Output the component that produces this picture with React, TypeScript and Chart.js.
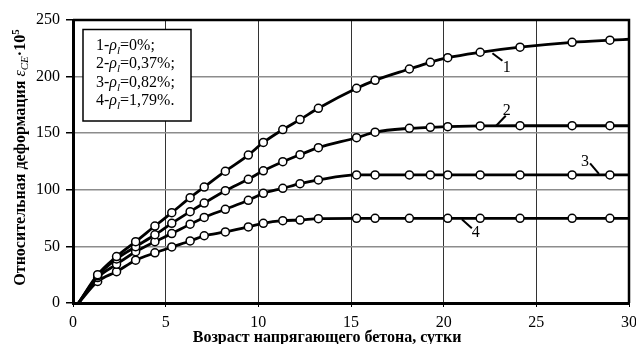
import React, { useEffect, useRef } from 'react';
import { Chart, registerables } from 'chart.js';

Chart.register(...registerables);

// ---- data ----
const days = [0.3, 1.33, 2.35, 3.38, 4.42, 5.33, 6.32, 7.08, 8.22, 9.46, 10.27, 11.32, 12.25, 13.24, 15.3, 16.3, 18.15, 19.28, 20.22, 21.97, 24.12, 26.93, 28.97, 30];
const series1 = [0, 25, 41, 54.2, 68, 79.8, 93, 102.4, 116.4, 130.7, 141.8, 153.2, 162, 172, 189.7, 196.7, 206.7, 212.6, 216.7, 221.5, 226, 230.3, 232.2, 233];
const series2 = [0, 24, 38.9, 49.7, 60.3, 70.4, 80.7, 88.3, 99.2, 109.3, 116.8, 124.8, 131, 137.2, 146, 150.9, 154.3, 155.2, 155.8, 156.4, 156.6, 156.6, 156.6, 156.6];
const series3 = [0, 22.5, 34.2, 45.3, 54.2, 61.3, 69.6, 75.6, 82.8, 90.7, 96.9, 101.3, 105.4, 108.7, 113.1, 113.1, 113.1, 113.1, 113.1, 113.1, 113.1, 113.1, 113.1, 113.1];
const series4 = [0, 19, 27.7, 37.8, 44.3, 49.5, 54.8, 59.4, 62.8, 67.2, 70.4, 72.7, 73.3, 74.5, 74.8, 74.8, 74.8, null, 74.8, 74.8, 74.8, 74.8, 74.8, 74.8];
const seriesNames = ['1', '2', '3', '4'];
const legendPrefix = ['1-', '2-', '3-', '4-'];
const legendValue = ['=0%;', '=0,37%;', '=0,82%;', '=1,79%.'];
const xMin = 0, xMax = 30, xStep = 5;
const yMin = 0, yMax = 250, yStep = 50;
const xTitle = 'Возраст напрягающего бетона, сутки';
const yTitleMain = 'Относительная деформация ';

// callout annotations (data units): text centre, leader line from curve to label
const calloutText = [[23.41, 208.2], [23.4, 170], [27.62, 124.8], [21.73, 62.1]];
const calloutLine = [[22.63, 220.6, 23.17, 214], [22.82, 156.4, 23.35, 165.4], [28.38, 114, 27.9, 123.4], [20.98, 73.9, 21.52, 66]];

const SERIF = "'Liberation Serif', 'Times New Roman', serif";

type Run = { t: string; f: string; dy?: number };
function drawRuns(ctx: CanvasRenderingContext2D, runs: Run[], x: number, y: number, center: boolean) {
  let w = 0;
  for (const r of runs) { ctx.font = r.f; w += ctx.measureText(r.t).width; }
  let cx = center ? x - w / 2 : x;
  ctx.textAlign = 'left';
  for (const r of runs) {
    ctx.font = r.f;
    ctx.fillText(r.t, cx, y + (r.dy || 0));
    cx += ctx.measureText(r.t).width;
  }
}

const annotPlugin = {
  id: 'annot',
  afterDatasetsDraw(chart: any) {
    const { ctx, chartArea: ca, scales } = chart;
    const xs = scales.x, ys = scales.y;
    ctx.save();
    // frame top/right
    ctx.strokeStyle = '#000';
    ctx.lineWidth = 2.5;
    ctx.beginPath();
    ctx.moveTo(ca.left, ca.top);
    ctx.lineTo(ca.right, ca.top);
    ctx.lineTo(ca.right, ca.bottom);
    ctx.stroke();

    // callouts
    ctx.fillStyle = '#000';
    ctx.lineWidth = 2;
    ctx.textBaseline = 'middle';
    seriesNames.forEach((name, k) => {
      const l = calloutLine[k];
      ctx.beginPath();
      ctx.moveTo(xs.getPixelForValue(l[0]), ys.getPixelForValue(l[1]));
      ctx.lineTo(xs.getPixelForValue(l[2]), ys.getPixelForValue(l[3]));
      ctx.stroke();
      ctx.font = `16px ${SERIF}`;
      ctx.textAlign = 'center';
      ctx.fillText(name, xs.getPixelForValue(calloutText[k][0]), ys.getPixelForValue(calloutText[k][1]));
    });

    // legend box
    const bx = ca.left + 10, by = ca.top + 9.5, bw = 108, bh = 91.5;
    ctx.fillStyle = '#fff';
    ctx.fillRect(bx, by, bw, bh);
    ctx.strokeStyle = '#000';
    ctx.lineWidth = 1.5;
    ctx.strokeRect(bx, by, bw, bh);
    ctx.fillStyle = '#000';
    ctx.textBaseline = 'alphabetic';
    legendPrefix.forEach((p, i) => {
      drawRuns(ctx, [
        { t: p, f: `16px ${SERIF}` },
        { t: 'ρ', f: `italic 16px ${SERIF}` },
        { t: 'l', f: `italic 11px ${SERIF}`, dy: 4 },
        { t: legendValue[i], f: `16px ${SERIF}` },
      ], bx + 13, by + 20.5 + i * 18.33, false);
    });
    ctx.restore();
  },
  afterDraw(chart: any) {
    const { ctx, chartArea: ca } = chart;
    ctx.save();
    ctx.fillStyle = '#000';
    // x title
    ctx.textBaseline = 'alphabetic';
    ctx.textAlign = 'center';
    ctx.font = `bold 16px ${SERIF}`;
    ctx.fillText(xTitle, ca.left + (ca.right - ca.left) * 0.457, 342);
    // y title (rotated)
    ctx.translate(21, (ca.top + ca.bottom) / 2 - 4);
    ctx.rotate(-Math.PI / 2);
    ctx.textBaseline = 'middle';
    drawRuns(ctx, [
      { t: yTitleMain, f: `bold 16px ${SERIF}` },
      { t: 'ε', f: `italic 16px ${SERIF}` },
      { t: 'CE', f: `italic 11px ${SERIF}`, dy: 4 },
      { t: '·10', f: `bold 16px ${SERIF}` },
      { t: '5', f: `bold 11px ${SERIF}`, dy: -5 },
    ], 0, 0, true);
    ctx.restore();
  },
};

export default function App() {
  const ref = useRef<HTMLCanvasElement | null>(null);
  useEffect(() => {
    if (!ref.current) return;
    const seriesList = [series1, series2, series3, series4];
    const chart = new Chart(ref.current, {
      type: 'line',
      data: {
        datasets: seriesList.map((s, k) => ({
          label: seriesNames[k],
          data: days.map((d, i) => ({ x: d, y: s[i] })),
          borderColor: '#000',
          borderWidth: 2.8,
          pointRadius: days.map((_, i) => (i === 0 || i === days.length - 1 ? 0 : 4)),
          pointHoverRadius: 4,
          pointBackgroundColor: '#fff',
          pointBorderColor: '#000',
          pointBorderWidth: 1.5,
          cubicInterpolationMode: 'monotone',
          spanGaps: true,
          fill: false,
        })) as any,
      },
      options: {
        responsive: false,
        animation: false,
        devicePixelRatio: 1,
        layout: { padding: { left: 0, right: 7, top: 20, bottom: 0 } },
        plugins: { legend: { display: false }, tooltip: { enabled: false } },
        font: { family: SERIF },
        scales: {
          x: {
            type: 'linear',
            min: xMin,
            max: xMax,
            ticks: { stepSize: xStep, color: '#000', font: { family: SERIF, size: 16 }, padding: 6, maxRotation: 0 },
            grid: { color: '#333', lineWidth: 1, tickLength: 4, tickColor: '#000' },
            border: { display: true, color: '#000', width: 3 },
            afterFit: (scale: any) => { scale.height = 41; scale.paddingLeft = 0; scale.paddingRight = 0; },
          },
          y: {
            type: 'linear',
            min: yMin,
            max: yMax,
            ticks: { stepSize: yStep, color: '#000', font: { family: SERIF, size: 16 }, padding: 6 },
            grid: { color: '#8c8c8c', lineWidth: 1.5, tickLength: 7, tickColor: '#000' },
            border: { display: true, color: '#000', width: 3 },
            afterFit: (scale: any) => { scale.width = 73; scale.paddingTop = 0; scale.paddingBottom = 0; },
          },
        },
      } as any,
      plugins: [annotPlugin],
    });
    return () => chart.destroy();
  }, []);
  return (
    <div style={{ position: 'fixed', left: 0, top: 0, width: 636, height: 344, background: '#fff' }}>
      <canvas ref={ref} width={636} height={344} style={{ display: 'block' }} />
    </div>
  );
}
